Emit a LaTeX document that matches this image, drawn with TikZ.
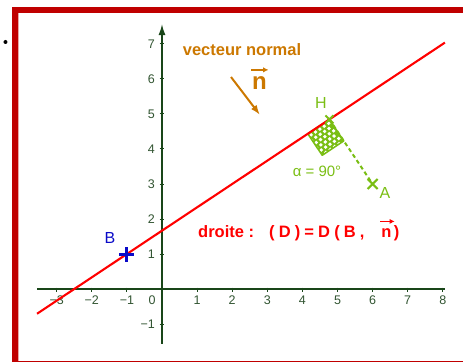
\documentclass[tikz,border=0pt]{standalone}
\usepackage{fontspec}
\setmainfont{Liberation Sans}
\usetikzlibrary{arrows.meta,calc}
\definecolor{framered}{RGB}{192,0,0}
\definecolor{axisgreen}{RGB}{25,70,25}
\definecolor{ticklab}{RGB}{50,85,50}
\definecolor{geored}{RGB}{255,0,0}
\definecolor{geoblue}{RGB}{10,10,200}
\definecolor{geogreen}{RGB}{122,190,20}
\definecolor{geoorange}{RGB}{204,120,0}
\tikzset{
  axisline/.style={axisgreen, line width=1.5pt},
  ticklabel/.style={ticklab, inner sep=0pt, font=\fontsize{12.5}{14}\selectfont},
  boldlab/.style={inner sep=0pt, font=\bfseries\fontsize{16.5}{18}\selectfont},
  ptlab/.style={inner sep=0pt, font=\fontsize{16}{18}\selectfont},
  vecarrow/.style={line width=1.6pt, -{Latex[length=5.5pt,width=5.5pt]}},
}
\begin{document}
\begin{tikzpicture}[x=35.1pt,y=35pt]
\useasboundingbox (-162pt,-73pt) rectangle (301pt,289pt);

% ---------- pixel-coordinate scope: frame and texts ----------
\begin{scope}[x=1pt,y=-1pt,shift={(-162pt,289pt)}]
  \fill[framered] (12,7) rectangle (463,13);
  \fill[framered] (12,7) rectangle (18,362);
  \fill[framered!35] (18,13) rectangle (19.3,360.5);
  \draw[framered, line width=1pt] (12,361.5) -- (463,361.5);
  \fill[black] (5.5,42) circle (2pt);

  \node[boldlab, geoorange] (vn) at (242,50) {vecteur normal};
  \node[geoorange, inner sep=0pt, font=\bfseries\fontsize{24}{26}\selectfont, anchor=base] (nlab) at (259.5,90) {n};
  \draw[geoorange, vecarrow] ([xshift=-0.5pt,yshift=7pt]nlab.north west) -- ([xshift=1.5pt,yshift=7pt]nlab.north east);
  \coordinate (nS) at (231,77);
  \coordinate (nE) at (260,115);
  \draw[geoorange, line width=2pt, -{Latex[length=10pt,width=7pt]}] (nS) -- (nE);

  \node[boldlab, geored, anchor=base west] (dr1) at (198,237) {droite :};
  \node[boldlab, geored, anchor=base west] (dr2) at (269,237) {\spaceskip=0.25em\relax ( D ) = D ( B ,};
  \node[boldlab, geored, anchor=base] (dr3) at (386.5,237) {n};
  \node[boldlab, geored, anchor=base] (dr4) at (396.5,237) {)};
  \draw[geored, line width=1.6pt, -{Latex[length=5pt,width=5pt]}] ([xshift=-1pt,yshift=6.5pt]dr3.north west) -- ([xshift=3pt,yshift=6.5pt]dr3.north east);

  \node[ptlab, geoblue] (Blab) at (110,238) {B};
  \node[ptlab, geogreen] (Hlab) at (321,103) {H};
  \node[ptlab, geogreen] (Alab) at (385,193) {A};
  \node[geogreen, inner sep=0pt, font=\fontsize{15}{17}\selectfont] (alab) at (317,171) {α = 90°};
\end{scope}

% ---------- graph ----------
\draw[axisline] (-3.56,0) -- (8.06,0);
\draw[axisline, -{Latex[length=11pt,width=7pt]}] (0,-1.57) -- (0,7.57);
\foreach \i in {-3,-2,-1,1,2,3,4,5,6,7,8}
  \draw[axisgreen, line width=1pt] (\i,1.5pt) -- (\i,-2.5pt);
\foreach \j in {-1,1,2,3,4,5,6,7}
  \draw[axisgreen, line width=1pt] (-2.5pt,\j) -- (1.5pt,\j);
\foreach \i/\t in {-3/−3,-2/−2,-1/−1,1/1,2/2,3/3,4/4,5/5,6/6,7/7,8/8}
  \node[ticklabel] (xl\i) at ([yshift=-11pt]\i,0) {\t};
\node[ticklabel] (xl0) at ([yshift=-11pt]-0.285,0) {0};
\foreach \j/\t in {-1/−1,1/1,2/2,3/3,4/4,5/5,6/6,7/7}
  \node[ticklabel, anchor=east] (yl\j) at ([xshift=-7pt]0,\j) {\t};

% points
\coordinate (B) at (-1,1);
\coordinate (A) at (6,3);
\coordinate (H) at (4.76923,4.84615);
\coordinate (u) at (-0.83205,-0.5547);
\coordinate (v) at (0.5547,-0.83205);
\coordinate (S1) at ($(H)+0.74*(u)$);
\coordinate (S3) at ($(H)+0.74*(v)$);
\coordinate (S2) at ($(S1)+(S3)-(H)$);

% dashed segment H--A
\draw[geogreen, line width=2pt, dash pattern=on 4pt off 3pt] (H) -- (A);

% right-angle square
\fill[geogreen] (H) -- (S1) -- (S2) -- (S3) -- cycle;
\begin{scope}
  \clip (H) -- (S1) -- (S2) -- (S3) -- cycle;
  \foreach \r in {0,...,6} {
    \foreach \c in {0,...,6} {
      \pgfmathsetmacro\aa{0.08+\c*0.15+mod(\r,2)*0.075}
      \pgfmathsetmacro\bb{0.08+\r*0.13}
      \fill[white] ($(H)+\aa*(u)+\bb*(v)$) circle (1.9pt);
    }
  }
\end{scope}
\draw[geogreen, line width=1.5pt, line join=round] (H) -- (S1) -- (S2) -- (S3) -- cycle;

% the line (D)
\coordinate (L1) at (-3.56,{(2*(-3.56)+5)/3});
\coordinate (L2) at (8.06,{(2*8.06+5)/3});
\draw[geored, line width=2.1pt] (L1) -- (L2);

% point markers
\draw[geoblue, line width=3pt] ([xshift=-7.5pt]B) -- ([xshift=7.5pt]B) ([yshift=-7.5pt]B) -- ([yshift=7.5pt]B);
\draw[geogreen, line width=2pt] ([shift={(-5pt,-5pt)}]A) -- ([shift={(5pt,5pt)}]A)
  ([shift={(-5pt,5pt)}]A) -- ([shift={(5pt,-5pt)}]A);
\draw[geogreen, line width=2pt] ([shift={(-4pt,-4pt)}]H) -- ([shift={(4pt,4pt)}]H)
  ([shift={(-4pt,4pt)}]H) -- ([shift={(4pt,-4pt)}]H);
\end{tikzpicture}
\end{document}
